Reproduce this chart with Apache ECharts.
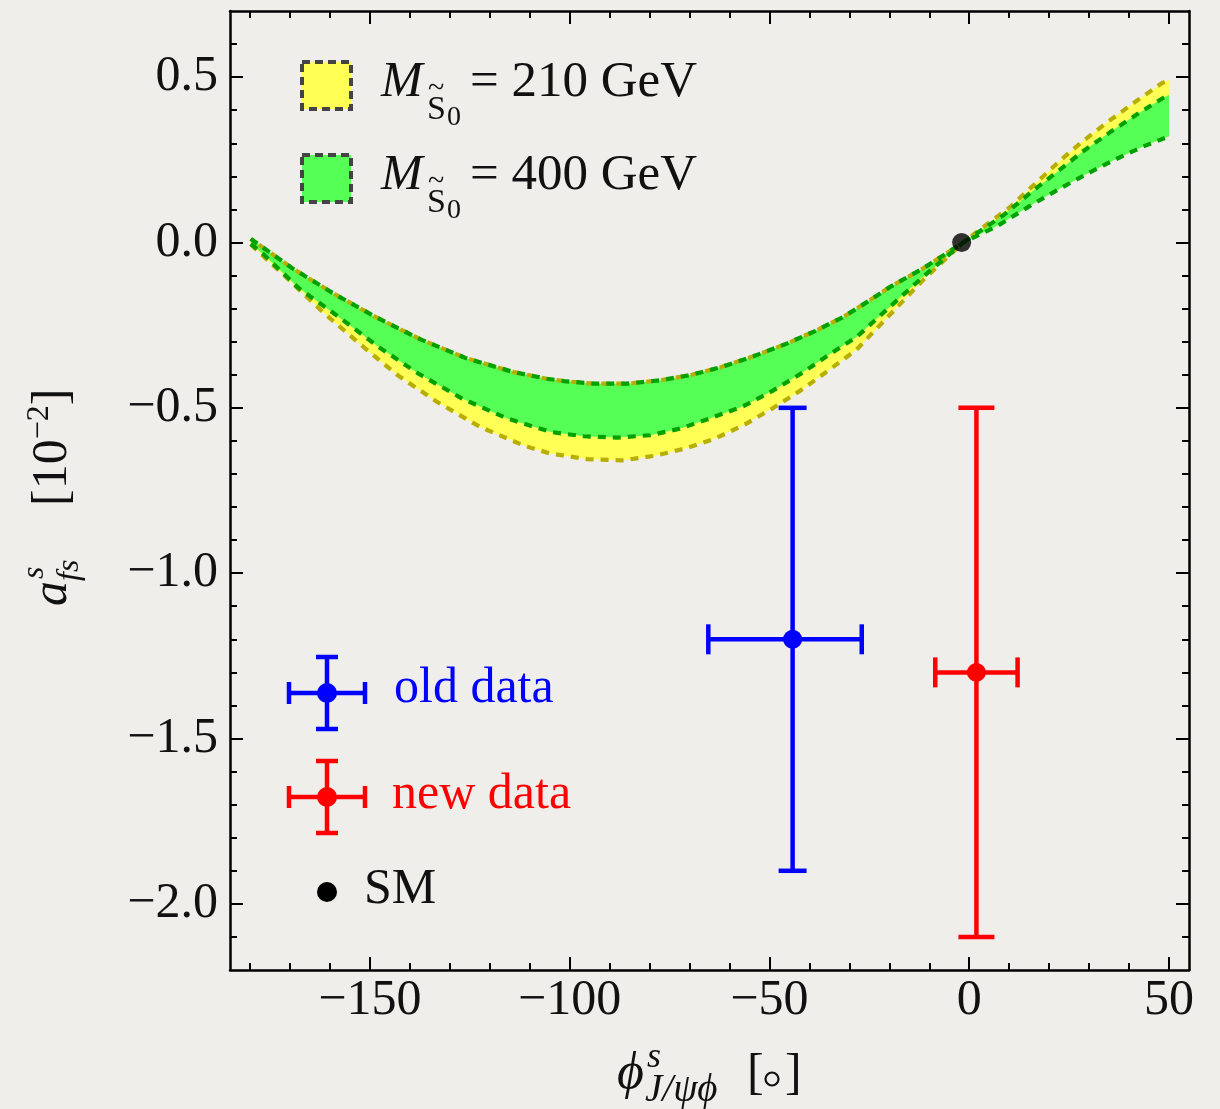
<!DOCTYPE html>
<html>
<head>
<meta charset="utf-8">
<title>a_fs^s versus phi_s</title>
<script src="https://cdn.jsdelivr.net/npm/echarts@6/dist/echarts.min.js"></script>
<style>
  html, body { margin: 0; padding: 0; background: #efeeea; }
  #chart { width: 1220px; height: 1109px; }
</style>
</head>
<body>
<div id="chart"></div>
<script>
// Band edges: [phi_s (deg), a_fs^s (10^-2)]
// Upper edge on the negative side is common to both masses.
const sharedUpper = [
  [-179.8, 0.011], [-169.4, -0.078], [-159.0, -0.155], [-148.6, -0.225],
  [-137.3, -0.293], [-126.1, -0.349], [-114.0, -0.392], [-105.7, -0.412],
  [-101.5, -0.419], [-94.0, -0.427], [-85.7, -0.427], [-77.4, -0.417],
  [-69.4, -0.400], [-61.9, -0.376], [-54.0, -0.344], [-46.1, -0.308],
  [-38.6, -0.268], [-31.5, -0.225], [-25.3, -0.178], [-19.9, -0.135],
  [-11.5, -0.078], [-1.5, 0.0]
];
const yellowUpperRight = [
  [1.8, 0.031], [10.2, 0.107], [16.0, 0.172], [22.2, 0.242], [28.1, 0.303],
  [34.7, 0.365], [41.4, 0.424], [48.1, 0.481], [50.0, 0.491]
];
const greenUpperRight = [
  [8.5, 0.082], [15.2, 0.149], [21.8, 0.212], [28.5, 0.276], [35.2, 0.333],
  [41.8, 0.386], [48.5, 0.437], [50.0, 0.447]
];
// Lower edge of the 400 GeV band (also the 210 GeV lower edge for phi_s > 0)
const greenLower = [
  [-179.8, -0.004], [-176.5, -0.037], [-167.8, -0.138], [-157.8, -0.225],
  [-147.8, -0.316], [-137.8, -0.397], [-126.9, -0.472], [-115.7, -0.532],
  [-104.7, -0.573], [-96.5, -0.586], [-88.2, -0.590], [-79.9, -0.583],
  [-72.4, -0.563], [-64.9, -0.532], [-56.5, -0.495], [-49.0, -0.447],
  [-41.9, -0.395], [-34.9, -0.338], [-28.2, -0.286], [-11.5, -0.103],
  [-1.5, 0.0], [7.2, 0.051], [14.7, 0.107], [21.8, 0.157], [28.9, 0.204],
  [36.0, 0.248], [43.5, 0.290], [50.0, 0.321]
];
// Lower edge of the 210 GeV band where it separates from the 400 GeV one
const yellowLowerLeft = [
  [-179.8, -0.006], [-170.7, -0.108], [-161.8, -0.210], [-152.6, -0.306],
  [-143.2, -0.400], [-133.2, -0.482], [-122.4, -0.558], [-111.3, -0.615],
  [-104.9, -0.638], [-95.7, -0.655], [-86.9, -0.659], [-78.6, -0.645],
  [-71.1, -0.623], [-63.6, -0.593], [-56.1, -0.550], [-49.0, -0.500],
  [-41.5, -0.442], [-34.9, -0.384], [-28.2, -0.324], [-11.5, -0.113],
  [-1.5, 0.0]
];

// Measurements: [phi, a, phiLow, phiHigh, aLow, aHigh]
const oldData = [-44.2, -1.20, -65.3, -26.9, -1.90, -0.50];
const newData = [1.8, -1.30, -8.5, 12.1, -2.10, -0.50];
const smPoint = [-1.9, 0.0];

// Axis ticks
const xMajorTicks = [-150, -100, -50, 0, 50];
const xTickLabels = ['\u2212150', '\u2212100', '\u221250', '0', '50'];
const xMinorTicks = [-180, -170, -160, -140, -130, -120, -110, -90, -80, -70, -60,
  -40, -30, -20, -10, 10, 20, 30, 40];
const yMajorTicks = [-2.0, -1.5, -1.0, -0.5, 0.0, 0.5];
const yTickLabels = ['\u22122.0', '\u22121.5', '\u22121.0', '\u22120.5', '0.0', '0.5'];
const yMinorTicks = [-2.1, -1.9, -1.8, -1.7, -1.6, -1.4, -1.3, -1.2, -1.1, -0.9,
  -0.8, -0.7, -0.6, -0.4, -0.3, -0.2, -0.1, 0.1, 0.2, 0.3, 0.4, 0.6];

const yellowUpper = sharedUpper.concat(yellowUpperRight);
const greenUpper = sharedUpper.concat(greenUpperRight);
const yellowLower = yellowLowerLeft.concat(greenLower.filter(p => p[0] > -1.5));

const SERIF = '"Liberation Serif", "Times New Roman", serif';
const FILL_YELLOW = '#ffff55';
const FILL_GREEN = '#55ff55';
const EDGE_YELLOW = '#b8ae00';
const EDGE_GREEN = '#00a000';
const BLUE = '#0000ff';
const RED = '#ff0000';

const chart = echarts.init(document.getElementById('chart'), null, { renderer: 'canvas' });

function labelFor(ticks, labels) {
  return v => {
    const i = ticks.findIndex(t => Math.abs(t - v) < 1e-9);
    return i >= 0 ? labels[i] : '';
  };
}

function xAxisDef(gridIndex, position, ticks, len, withLine, withLabels) {
  return {
    gridIndex, type: 'value', min: -185, max: 55, position,
    axisLine: { show: withLine, onZero: false, lineStyle: { color: '#000', width: 2.5 } },
    axisTick: { show: true, inside: true, length: len, customValues: ticks,
      lineStyle: { color: '#000', width: 2 } },
    axisLabel: withLabels ? {
      show: true, customValues: ticks, formatter: labelFor(xMajorTicks, xTickLabels),
      margin: 6, fontFamily: SERIF, fontSize: 50, lineHeight: 50, color: '#111'
    } : { show: false },
    splitLine: { show: false }, minorTick: { show: false }
  };
}
function yAxisDef(gridIndex, position, ticks, len, withLine, withLabels) {
  return {
    gridIndex, type: 'value', min: -2.2, max: 0.7, position,
    axisLine: { show: withLine, onZero: false, lineStyle: { color: '#000', width: 2.5 } },
    axisTick: { show: true, inside: true, length: len, customValues: ticks,
      lineStyle: { color: '#000', width: 2 } },
    axisLabel: withLabels ? {
      show: true, customValues: ticks, formatter: labelFor(yMajorTicks, yTickLabels),
      margin: 12, fontFamily: SERIF, fontSize: 50, lineHeight: 50, color: '#111'
    } : { show: false },
    splitLine: { show: false }, minorTick: { show: false }
  };
}

// filled band between two edges, drawn once as a polygon in data coordinates
function bandSeries(upper, lower, color, z) {
  return {
    type: 'custom', xAxisIndex: 0, yAxisIndex: 0, z, silent: true, clip: true,
    data: upper, encode: { x: 0, y: 1 },
    renderItem(params, api) {
      if (params.dataIndex !== 0) return null;
      const pts = upper.map(p => api.coord(p))
        .concat(lower.slice().reverse().map(p => api.coord(p)));
      return { type: 'polygon', shape: { points: pts }, style: { fill: color } };
    }
  };
}

function edgeSeries(data, color, z, offset) {
  return {
    type: 'line', xAxisIndex: 0, yAxisIndex: 0, z, data, silent: true,
    showSymbol: false, symbol: 'none', smooth: false,
    lineStyle: { color, width: 4.2, type: [8, 7], dashOffset: offset }
  };
}

// point with horizontal and vertical error bars
function errorSeries(row, color, capV, capH, z) {
  return {
    type: 'custom', xAxisIndex: 0, yAxisIndex: 0, z, silent: true,
    data: [row], encode: { x: [0, 2, 3], y: [1, 4, 5] },
    renderItem(params, api) {
      const x = api.value(0), y = api.value(1);
      const c = api.coord([x, y]);
      const l = api.coord([api.value(2), y]);
      const r = api.coord([api.value(3), y]);
      const b = api.coord([x, api.value(4)]);
      const t = api.coord([x, api.value(5)]);
      const st = { stroke: color, lineWidth: 4.5 };
      const line = (x1, y1, x2, y2) => ({ type: 'line', shape: { x1, y1, x2, y2 }, style: st });
      return {
        type: 'group', children: [
          line(l[0], l[1], r[0], r[1]),
          line(b[0], b[1], t[0], t[1]),
          line(l[0], l[1] - capH / 2, l[0], l[1] + capH / 2),
          line(r[0], r[1] - capH / 2, r[0], r[1] + capH / 2),
          line(t[0] - capV / 2, t[1], t[0] + capV / 2, t[1]),
          line(b[0] - capV / 2, b[1], b[0] + capV / 2, b[1]),
          { type: 'circle', shape: { cx: c[0], cy: c[1], r: 9.5 }, style: { fill: color } }
        ]
      };
    }
  };
}

// text placed by its alphabetic baseline
function txt(text, x, baseline, size, italic, color) {
  return {
    type: 'text', x, y: baseline - 0.34 * size, silent: true,
    style: {
      text, font: (italic ? 'italic ' : '') + size + 'px ' + SERIF,
      fill: color || '#111', textAlign: 'left', textVerticalAlign: 'middle'
    }
  };
}
const mctx = document.createElement('canvas').getContext('2d');
function tw(text, size, italic) {
  mctx.font = (italic ? 'italic ' : '') + size + 'px ' + SERIF;
  return mctx.measureText(text).width;
}

function legendSwatch(y, fill) {
  return {
    type: 'rect', silent: true, shape: { x: 302, y, width: 49, height: 47 },
    style: { fill, stroke: '#444', lineWidth: 4, lineDash: [8, 5] }
  };
}
function massLabel(baseline, mass) {
  const xS = 427;
  return [
    txt('M', 381, baseline, 50, true),
    txt('S', xS, baseline + 22, 34, false),
    txt('~', xS + 1, baseline - 1, 30, false),
    txt('0', xS + tw('S', 34, false) + 1, baseline + 27, 28, false),
    txt('= ' + mass + ' GeV', 470, baseline, 51, false)
  ];
}
function crossIcon(cx, cy, color) {
  const st = { stroke: color, lineWidth: 4.5 };
  const ln = (x1, y1, x2, y2) => ({ type: 'line', silent: true, shape: { x1, y1, x2, y2 }, style: st });
  return [
    ln(cx - 38, cy, cx + 38, cy),
    ln(cx, cy - 36, cx, cy + 36),
    ln(cx - 38, cy - 11, cx - 38, cy + 11),
    ln(cx + 38, cy - 11, cx + 38, cy + 11),
    ln(cx - 11, cy - 36, cx + 11, cy - 36),
    ln(cx - 11, cy + 36, cx + 11, cy + 36),
    { type: 'circle', silent: true, shape: { cx, cy, r: 10 }, style: { fill: color } }
  ];
}

// axis titles
function xTitle() {
  const b = 1092;
  return [
    txt('\u03D5', 617, b, 52, true),
    txt('s', 647, b - 22, 36, true),
    txt('J/\u03C8\u03D5', 645, b + 12, 39, true),
    txt('[', 747, b, 50, false),
    { type: 'circle', silent: true, shape: { cx: 772, cy: b - 13, r: 6.5 },
      style: { fill: 'none', stroke: '#111', lineWidth: 2.2 } },
    txt(']', 785, b, 50, false)
  ];
}
function yTitle() {
  const kids = [];
  kids.push(txt('a', 0, 0, 50, true));
  kids.push(txt('s', 27, -25, 32, true));
  kids.push(txt('fs', 25, 10, 32, true));
  const x0 = 100;
  kids.push(txt('[10', x0, 0, 50, false));
  const x1 = x0 + tw('[10', 50, false);
  kids.push(txt('\u22122', x1, -20, 32, false));
  const x2 = x1 + tw('\u22122', 32, false);
  kids.push(txt(']', x2, 0, 50, false));
  return { type: 'group', x: 70, y: 606, rotation: Math.PI / 2, children: kids };
}

const option = {
  animation: false,
  backgroundColor: '#efeeea',
  grid: [
    { left: 230, right: 31, top: 11, bottom: 139, show: false },
    { left: 230, right: 31, top: 11, bottom: 139, show: false }
  ],
  xAxis: [
    xAxisDef(0, 'bottom', xMajorTicks, 13, true, true),
    xAxisDef(0, 'top', xMajorTicks, 13, true, false),
    xAxisDef(1, 'bottom', xMinorTicks, 7, false, false),
    xAxisDef(1, 'top', xMinorTicks, 7, false, false)
  ],
  yAxis: [
    yAxisDef(0, 'left', yMajorTicks, 13, true, true),
    yAxisDef(0, 'right', yMajorTicks, 13, true, false),
    yAxisDef(1, 'left', yMinorTicks, 7, false, false),
    yAxisDef(1, 'right', yMinorTicks, 7, false, false)
  ],
  series: [
    bandSeries(yellowUpper, yellowLower, FILL_YELLOW, 1),
    bandSeries(greenUpper, greenLower, FILL_GREEN, 2),
    edgeSeries(yellowUpper, EDGE_YELLOW, 3, 5),
    edgeSeries(yellowLowerLeft, EDGE_YELLOW, 3, 0),
    edgeSeries(greenUpper, EDGE_GREEN, 4, 0),
    edgeSeries(greenLower, EDGE_GREEN, 4, 0),
    errorSeries(oldData, BLUE, 28, 30, 5),
    errorSeries(newData, RED, 36, 30, 5),
    {
      type: 'scatter', xAxisIndex: 0, yAxisIndex: 0, z: 6, silent: true,
      data: [smPoint], symbol: 'circle', symbolSize: 19,
      itemStyle: { color: '#000' }
    }
  ],
  graphic: [
    legendSwatch(62, FILL_YELLOW),
    legendSwatch(155, FILL_GREEN),
    ...massLabel(100, '210'),
    ...massLabel(193, '400'),
    ...crossIcon(327, 693, BLUE),
    txt('old data', 394, 706, 50, false, BLUE),
    ...crossIcon(327, 797, RED),
    txt('new data', 392, 812, 50, false, RED),
    { type: 'circle', silent: true, shape: { cx: 327, cy: 892, r: 10 }, style: { fill: '#000' } },
    txt('SM', 364, 907, 50, false),
    ...xTitle(),
    yTitle()
  ]
};
chart.setOption(option);
</script>
</body>
</html>
